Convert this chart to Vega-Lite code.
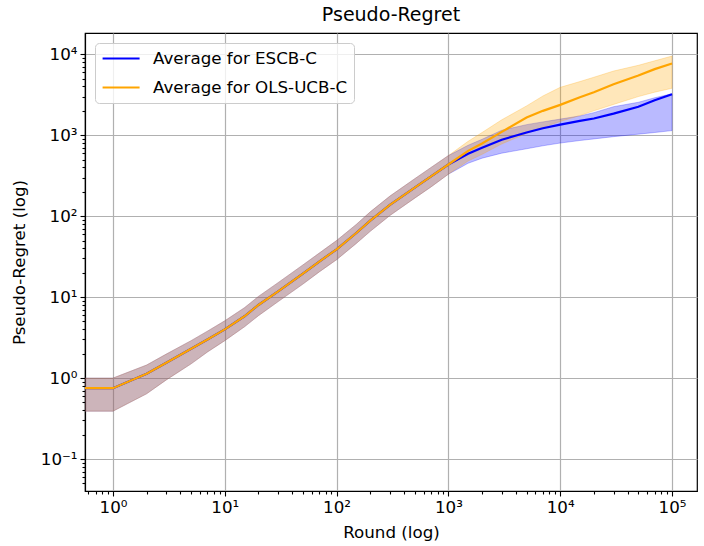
{
  "$schema": "https://vega.github.io/schema/vega-lite/v6.json",
  "width": 612,
  "height": 458,
  "autosize": {"type": "none"},
  "padding": {"left": 85, "top": 33, "right": 7, "bottom": 55},
  "title": {"text": "Pseudo-Regret", "fontSize": 19, "fontWeight": "normal", "font": "DejaVu Sans", "color": "black", "offset": 8},
  "config": {
    "font": "DejaVu Sans",
    "view": {"stroke": "black", "strokeWidth": 1.2},
    "axis": {
      "labelFont": "DejaVu Sans",
      "titleFont": "DejaVu Sans",
      "labelFontSize": 16.7,
      "titleFontSize": 16.7,
      "titleFontWeight": "normal",
      "labelColor": "black",
      "titleColor": "black",
      "domainColor": "black",
      "domainWidth": 1.2,
      "tickColor": "black",
      "tickWidth": 1.1,
      "gridColor": "#b0b0b0",
      "gridWidth": 1.2,
      "labelOverlap": false,
      "labelFlush": false,
      "labelBound": false
    }
  },
  "data": {
    "values": [
      {"series": "Average for ESCB-C", "round": 0.5, "mean": 0.75, "lo": 0.39, "hi": 1.0},
      {"series": "Average for ESCB-C", "round": 1, "mean": 0.75, "lo": 0.39, "hi": 1.0},
      {"series": "Average for ESCB-C", "round": 2, "mean": 1.13, "lo": 0.64, "hi": 1.45},
      {"series": "Average for ESCB-C", "round": 3, "mean": 1.55, "lo": 0.95, "hi": 1.98},
      {"series": "Average for ESCB-C", "round": 5, "mean": 2.3, "lo": 1.5, "hi": 2.9},
      {"series": "Average for ESCB-C", "round": 7, "mean": 3.0, "lo": 2.1, "hi": 3.8},
      {"series": "Average for ESCB-C", "round": 10, "mean": 4.0, "lo": 2.9, "hi": 5.1},
      {"series": "Average for ESCB-C", "round": 15, "mean": 5.8, "lo": 4.3, "hi": 7.4},
      {"series": "Average for ESCB-C", "round": 20, "mean": 8.0, "lo": 5.9, "hi": 10.2},
      {"series": "Average for ESCB-C", "round": 30, "mean": 11.8, "lo": 8.8, "hi": 15.1},
      {"series": "Average for ESCB-C", "round": 50, "mean": 19.5, "lo": 14.5, "hi": 25},
      {"series": "Average for ESCB-C", "round": 70, "mean": 27.5, "lo": 20.5, "hi": 35},
      {"series": "Average for ESCB-C", "round": 100, "mean": 39, "lo": 29, "hi": 50},
      {"series": "Average for ESCB-C", "round": 150, "mean": 62, "lo": 46, "hi": 79},
      {"series": "Average for ESCB-C", "round": 200, "mean": 88, "lo": 65, "hi": 113},
      {"series": "Average for ESCB-C", "round": 300, "mean": 138, "lo": 102, "hi": 177},
      {"series": "Average for ESCB-C", "round": 500, "mean": 225, "lo": 167, "hi": 290},
      {"series": "Average for ESCB-C", "round": 700, "mean": 310, "lo": 230, "hi": 400},
      {"series": "Average for ESCB-C", "round": 1000, "mean": 435, "lo": 330, "hi": 560},
      {"series": "Average for ESCB-C", "round": 1500, "mean": 590, "lo": 450, "hi": 750},
      {"series": "Average for ESCB-C", "round": 2000, "mean": 700, "lo": 520, "hi": 890},
      {"series": "Average for ESCB-C", "round": 3000, "mean": 880, "lo": 600, "hi": 1150},
      {"series": "Average for ESCB-C", "round": 5000, "mean": 1080, "lo": 680, "hi": 1350},
      {"series": "Average for ESCB-C", "round": 7000, "mean": 1220, "lo": 740, "hi": 1460},
      {"series": "Average for ESCB-C", "round": 10000, "mean": 1350, "lo": 800, "hi": 1580},
      {"series": "Average for ESCB-C", "round": 15000, "mean": 1500, "lo": 860, "hi": 1730},
      {"series": "Average for ESCB-C", "round": 20000, "mean": 1610, "lo": 900, "hi": 1900},
      {"series": "Average for ESCB-C", "round": 30000, "mean": 1850, "lo": 960, "hi": 2250},
      {"series": "Average for ESCB-C", "round": 50000, "mean": 2250, "lo": 1030, "hi": 2550},
      {"series": "Average for ESCB-C", "round": 70000, "mean": 2700, "lo": 1080, "hi": 2900},
      {"series": "Average for ESCB-C", "round": 100000, "mean": 3200, "lo": 1140, "hi": 3250},
      {"series": "Average for OLS-UCB-C", "round": 0.5, "mean": 0.75, "lo": 0.39, "hi": 1.0},
      {"series": "Average for OLS-UCB-C", "round": 1, "mean": 0.75, "lo": 0.39, "hi": 1.0},
      {"series": "Average for OLS-UCB-C", "round": 2, "mean": 1.13, "lo": 0.64, "hi": 1.45},
      {"series": "Average for OLS-UCB-C", "round": 3, "mean": 1.55, "lo": 0.95, "hi": 1.98},
      {"series": "Average for OLS-UCB-C", "round": 5, "mean": 2.3, "lo": 1.5, "hi": 2.9},
      {"series": "Average for OLS-UCB-C", "round": 7, "mean": 3.0, "lo": 2.1, "hi": 3.8},
      {"series": "Average for OLS-UCB-C", "round": 10, "mean": 4.0, "lo": 2.9, "hi": 5.1},
      {"series": "Average for OLS-UCB-C", "round": 15, "mean": 5.8, "lo": 4.3, "hi": 7.4},
      {"series": "Average for OLS-UCB-C", "round": 20, "mean": 8.0, "lo": 5.9, "hi": 10.2},
      {"series": "Average for OLS-UCB-C", "round": 30, "mean": 11.8, "lo": 8.8, "hi": 15.1},
      {"series": "Average for OLS-UCB-C", "round": 50, "mean": 19.5, "lo": 14.5, "hi": 25},
      {"series": "Average for OLS-UCB-C", "round": 70, "mean": 27.5, "lo": 20.5, "hi": 35},
      {"series": "Average for OLS-UCB-C", "round": 100, "mean": 39, "lo": 29, "hi": 50},
      {"series": "Average for OLS-UCB-C", "round": 150, "mean": 62, "lo": 46, "hi": 79},
      {"series": "Average for OLS-UCB-C", "round": 200, "mean": 88, "lo": 65, "hi": 113},
      {"series": "Average for OLS-UCB-C", "round": 300, "mean": 138, "lo": 102, "hi": 177},
      {"series": "Average for OLS-UCB-C", "round": 500, "mean": 225, "lo": 167, "hi": 290},
      {"series": "Average for OLS-UCB-C", "round": 700, "mean": 310, "lo": 230, "hi": 400},
      {"series": "Average for OLS-UCB-C", "round": 1000, "mean": 435, "lo": 330, "hi": 560},
      {"series": "Average for OLS-UCB-C", "round": 1500, "mean": 640, "lo": 480, "hi": 840},
      {"series": "Average for OLS-UCB-C", "round": 2000, "mean": 790, "lo": 580, "hi": 1080},
      {"series": "Average for OLS-UCB-C", "round": 3000, "mean": 1100, "lo": 780, "hi": 1550},
      {"series": "Average for OLS-UCB-C", "round": 5000, "mean": 1650, "lo": 1050, "hi": 2300},
      {"series": "Average for OLS-UCB-C", "round": 7000, "mean": 2000, "lo": 1250, "hi": 3050},
      {"series": "Average for OLS-UCB-C", "round": 10000, "mean": 2370, "lo": 1480, "hi": 3900},
      {"series": "Average for OLS-UCB-C", "round": 15000, "mean": 2950, "lo": 1750, "hi": 4600},
      {"series": "Average for OLS-UCB-C", "round": 20000, "mean": 3400, "lo": 2000, "hi": 5200},
      {"series": "Average for OLS-UCB-C", "round": 30000, "mean": 4250, "lo": 2400, "hi": 6200},
      {"series": "Average for OLS-UCB-C", "round": 50000, "mean": 5450, "lo": 3000, "hi": 7300},
      {"series": "Average for OLS-UCB-C", "round": 70000, "mean": 6550, "lo": 3400, "hi": 8300},
      {"series": "Average for OLS-UCB-C", "round": 100000, "mean": 7700, "lo": 3800, "hi": 9500}
    ]
  },
  "encoding": {
    "x": {
      "field": "round", "type": "quantitative",
      "scale": {"type": "log", "domain": [0.562, 167300], "nice": false},
      "axis": {
        "title": "Round (log)",
        "titlePadding": 9,
        "values": [0.6,0.7,0.8,0.9,1,2,3,4,5,6,7,8,9,10,20,30,40,50,60,70,80,90,100,200,300,400,500,600,700,800,900,1000,2000,3000,4000,5000,6000,7000,8000,9000,10000,20000,30000,40000,50000,60000,70000,80000,90000,100000],
        "labelExpr": "abs(log(datum.value)/LN10 - round(log(datum.value)/LN10)) < 0.001 ? '10' + (round(log(datum.value)/LN10) < 0 ? '⁻' : '') + ['⁰','¹','²','³','⁴','⁵','⁶','⁷','⁸','⁹'][abs(round(log(datum.value)/LN10))] : ''",
        "gridOpacity": {"condition": {"test": "abs(log(datum.value)/LN10 - round(log(datum.value)/LN10)) < 0.001", "value": 1}, "value": 0},
        "tickSize": {"condition": {"test": "abs(log(datum.value)/LN10 - round(log(datum.value)/LN10)) < 0.001", "value": 5}, "value": 3},
        "labelPadding": 3
      }
    },
    "y": {
      "type": "quantitative",
      "scale": {"type": "log", "domain": [0.0403, 18300], "nice": false},
      "axis": {
        "title": "Pseudo-Regret (log)",
        "titlePadding": 12,
        "values": [0.05,0.06,0.07,0.08,0.09,0.1,0.2,0.3,0.4,0.5,0.6,0.7,0.8,0.9,1,2,3,4,5,6,7,8,9,10,20,30,40,50,60,70,80,90,100,200,300,400,500,600,700,800,900,1000,2000,3000,4000,5000,6000,7000,8000,9000,10000],
        "labelExpr": "abs(log(datum.value)/LN10 - round(log(datum.value)/LN10)) < 0.001 ? '10' + (round(log(datum.value)/LN10) < 0 ? '⁻' : '') + ['⁰','¹','²','³','⁴','⁵','⁶','⁷','⁸','⁹'][abs(round(log(datum.value)/LN10))] : ''",
        "gridOpacity": {"condition": {"test": "abs(log(datum.value)/LN10 - round(log(datum.value)/LN10)) < 0.001", "value": 1}, "value": 0},
        "tickSize": {"condition": {"test": "abs(log(datum.value)/LN10 - round(log(datum.value)/LN10)) < 0.001", "value": 5}, "value": 3},
        "labelPadding": 3
      }
    }
  },
  "layer": [
    {
      "transform": [{"filter": "datum.series == 'Average for ESCB-C'"}],
      "mark": {"type": "area", "clip": true, "fill": "#0000ff", "fillOpacity": 0.27, "stroke": "#0000ff", "strokeOpacity": 0.25, "strokeWidth": 1},
      "encoding": {
        "y": {"field": "hi", "type": "quantitative"},
        "y2": {"field": "lo"}
      }
    },
    {
      "transform": [{"filter": "datum.series == 'Average for OLS-UCB-C'"}],
      "mark": {"type": "area", "clip": true, "fill": "#ffa500", "fillOpacity": 0.27, "stroke": "#ffa500", "strokeOpacity": 0.25, "strokeWidth": 1},
      "encoding": {
        "y": {"field": "hi", "type": "quantitative"},
        "y2": {"field": "lo"}
      }
    },
    {
      "mark": {"type": "line", "clip": true, "strokeWidth": 2.2},
      "encoding": {
        "y": {"field": "mean", "type": "quantitative"},
        "color": {
          "field": "series", "type": "nominal",
          "scale": {"domain": ["Average for ESCB-C", "Average for OLS-UCB-C"], "range": ["#0000ff", "#ffa500"]},
          "legend": {
            "title": null,
            "orient": "top-left",
            "offset": 10,
            "padding": 6,
            "fillColor": "rgba(255,255,255,0.8)",
            "strokeColor": "#cccccc",
            "cornerRadius": 4,
            "symbolType": "M-1,0H3.68",
            "symbolSize": 250,
            "symbolStrokeWidth": 2.2,
            "symbolFillColor": "transparent",
            "labelFontSize": 16.7,
            "labelFont": "DejaVu Sans",
            "labelColor": "black",
            "labelOffset": 33,
            "labelLimit": 400,
            "rowPadding": 10
          }
        }
      }
    }
  ]
}
